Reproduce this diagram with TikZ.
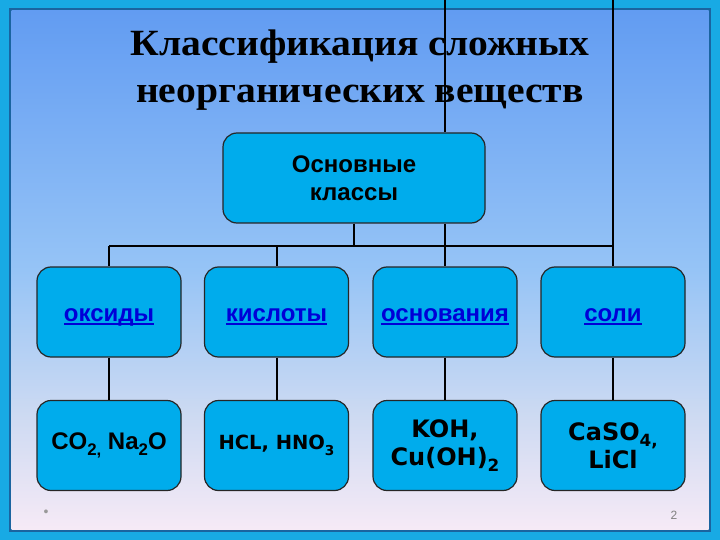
\documentclass[tikz,border=0pt]{standalone}
\usepackage{fontspec}
\usepackage{graphicx}
\setmainfont{Liberation Sans}
\newfontfamily\titlefont{Liberation Serif}
\newfontfamily\vfont{DejaVu Sans}
\definecolor{framecyan}{RGB}{24,170,228}
\definecolor{framedark}{RGB}{26,100,160}
\definecolor{bgtop}{RGB}{98,156,242}
\definecolor{bgmid}{RGB}{150,196,246}
\definecolor{bglow}{RGB}{205,218,242}
\definecolor{bgbot}{RGB}{246,234,246}
\definecolor{boxcyan}{RGB}{0,172,236}
\definecolor{linkblue}{RGB}{0,0,215}
\pgfdeclareverticalshading{bgshade}{100bp}{color(0bp)=(bgbot); color(25bp)=(bgbot); color(36bp)=(bglow); color(50bp)=(bgmid); color(75bp)=(bgtop); color(100bp)=(bgtop)}
\newcommand\chsub[1]{\raisebox{-0.28em}{\scalebox{0.7}{#1}}}
\newcommand\ulink[1]{\setbox0\hbox{#1}\rlap{\rule[-3.4pt]{\wd0}{1.7pt}}\box0}
\tikzset{
  classbox/.style={draw=black!85, line width=1.2pt, fill=boxcyan, rounded corners=14pt,
    minimum width=144pt, minimum height=90pt, inner sep=2pt, align=center},
  conn/.style={line width=2pt, black},
  lvltwo/.style={classbox, text=linkblue, text height=21pt, text depth=2pt, font=\bfseries\fontsize{24}{28}\selectfont},
  lvlthree/.style={classbox, text=black, font=\vfont\bfseries\fontsize{24}{28}\selectfont},
  titletext/.style={anchor=base, xscale=1.07, font=\titlefont\bfseries\fontsize{37}{44}\selectfont},
}
\begin{document}
\begin{tikzpicture}[x=1pt,y=-1pt]
\useasboundingbox (0,0) rectangle (720,540);
% frame and background
\fill[framecyan] (0,0) rectangle (720,540);
\fill[framedark] (9,8.5) rectangle (711,531.5);
\shade[shading=bgshade] (11.5,11) rectangle (708.5,529.5);
% title
\node[titletext] (title1) at (360,56) {Классификация сложных};
\node[titletext] (title2) at (360,103) {неорганических веществ};
% main box
\node[classbox, minimum width=262pt, font=\bfseries\fontsize{24}{28}\selectfont] (main) at (354,178) {Основные\\классы};
% level 2
\node[lvltwo] (ox) at (109,312) {\ulink{оксиды}};
\node[lvltwo] (ac) at (276.5,312) {\ulink{кислоты}};
\node[lvltwo] (ba) at (445,312) {\ulink{основания}};
\node[lvltwo] (sa) at (613,312) {\ulink{соли}};
% level 3
\node[classbox, font=\bfseries\fontsize{24}{28}\selectfont] (ox3) at (109,445.5) {CO\chsub{2,} Na\chsub{2}O};
\node[lvlthree, font=\vfont\bfseries\fontsize{19.5}{28}\selectfont] (ac3) at (276.5,445.5) {HCL, HNO\chsub{3}};
\node[lvlthree] (ba3) at (445,445.5) {KOH,\\Cu(OH)\chsub{2}};
\node[lvlthree] (sa3) at (613,445.5) {CaSO\chsub{4,}\\LiCl};
% connectors
\coordinate (t1) at (445,0);
\coordinate (t2) at (613,0);
\coordinate (busL) at (109,246);
\coordinate (busR) at (613,246);
\draw[conn] (t1) -- (t1 |- main.north);
\draw[conn] (t1 |- main.south) -- (ba.north);
\draw[conn] (t2) -- (sa.north);
\draw[conn] (main.south) -- (main.south |- busL);
\draw[conn] (busL) -- (busR);
\draw[conn] (busL) -- (ox.north);
\draw[conn] (ac.north |- busL) -- (ac.north);
\draw[conn] (ox.south) -- (ox3.north);
\draw[conn] (ac.south) -- (ac3.north);
\draw[conn] (ba.south) -- (ba3.north);
\draw[conn] (sa.south) -- (sa3.north);
% footer
\node[text=black!40, font=\fontsize{14}{14}\selectfont] (dot) at (46,513) {•};
\node[text=black!50, font=\fontsize{12}{14}\selectfont] (num) at (674,515) {2};
\end{tikzpicture}
\end{document}
